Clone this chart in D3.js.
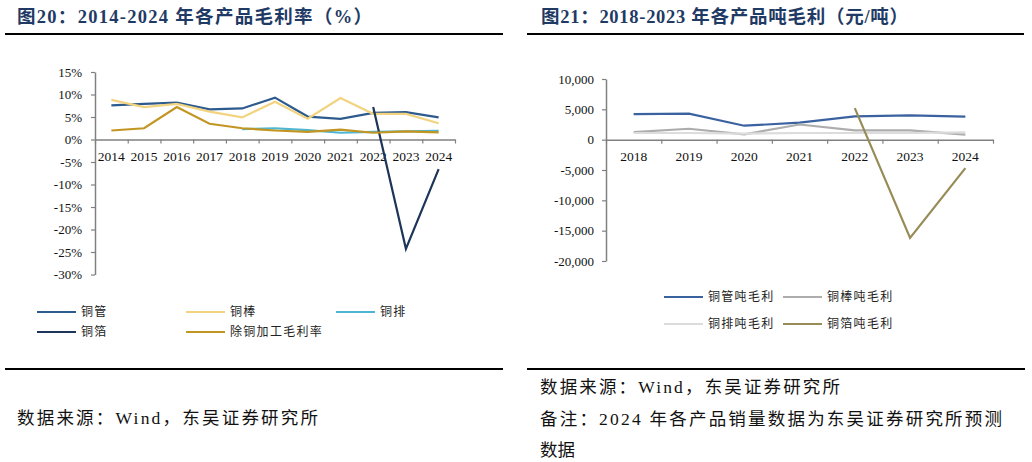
<!DOCTYPE html>
<html>
<head>
<meta charset="utf-8">
<script src="https://cdn.jsdelivr.net/npm/d3@7"></script>
<style>
  body { margin: 0; background: #fff; }
  svg { display: block; }
</style>
</head>
<body>
<div id="chart"></div>
<script>
// ---- data: left chart (毛利率, %) ----
let leftYears = ["2014", "2015", "2016", "2017", "2018", "2019", "2020", "2021", "2022", "2023", "2024"]
let tongGuan = [7.6, 7.9, 8.2, 6.7, 6.9, 9.3, 5.1, 4.6, 5.9, 6.1, 4.9]
let tongBang = [8.8, 7.2, 7.9, 6.2, 4.9, 8.4, 4.6, 9.2, 5.7, 5.7, 3.6]
let tongPai = [null, null, null, null, 2.3, 2.5, 2.1, 1.5, 1.7, 1.8, 1.9]
let tongBo = [null, null, null, null, null, null, null, null, 7.2, -24.3, -6.6]
let chuTong = [2.0, 2.5, 7.2, 3.5, 2.5, 2.0, 1.7, 2.2, 1.5, 1.8, 1.6]
let leftYTicks = [15, 10, 5, 0, -5, -10, -15, -20, -25, -30]

// ---- data: right chart (吨毛利, 元/吨) ----
let rightYears = ["2018", "2019", "2020", "2021", "2022", "2023", "2024"]
let guanTon = [4200, 4300, 2300, 2800, 3850, 4000, 3800]
let bangTon = [1250, 1800, 870, 2500, 1530, 1530, 820]
let paiTon = [1100, 1100, 1000, 1100, 1100, 1100, 1200]
let boTon = [null, null, null, null, 5200, -16200, -4700]
let rightYTicks = [10000, 5000, 0, -5000, -10000, -15000, -20000]

var W = 1032, H = 462
var serif = '"Liberation Serif", "Times New Roman", "Noto Sans CJK SC", serif'
var cjk = '"Noto Sans CJK SC", "Liberation Serif", sans-serif'

var svg = d3.select("#chart").append("svg")
    .attr("width", W)
    .attr("height", H)

// titles + rules
function header(x, len, text, ruleX0, ruleX1) {
    svg.append("text")
        .attr("x", x).attr("y", 23)
        .attr("textLength", len).attr("lengthAdjust", "spacing")
        .style("font-family", serif)
        .style("font-weight", "bold")
        .style("font-size", "18.5px")
        .style("fill", "#1F3A64")
        .text(text)
    svg.append("line")
        .attr("x1", ruleX0).attr("x2", ruleX1)
        .attr("y1", 34).attr("y2", 34)
        .attr("stroke", "#000").attr("stroke-width", 2)
}
header(17, 355, "图20：2014-2024 年各产品毛利率（%）", 5, 503)
header(541, 367, "图21：2018-2023 年各产品吨毛利（元/吨）", 527, 1024)

// bottom rules + notes
svg.append("line").attr("x1", 5).attr("x2", 503).attr("y1", 369).attr("y2", 369)
    .attr("stroke", "#000").attr("stroke-width", 2)
svg.append("line").attr("x1", 527).attr("x2", 1025).attr("y1", 369).attr("y2", 369)
    .attr("stroke", "#000").attr("stroke-width", 2)

function note(x, y, len, text) {
    svg.append("text")
        .attr("x", x).attr("y", y)
        .attr("textLength", len).attr("lengthAdjust", "spacing")
        .style("font-family", serif)
        .style("font-size", "17.5px")
        .style("fill", "#111")
        .text(text)
}
note(17, 424, 301, "数据来源：Wind，东吴证券研究所")
note(540, 393, 300, "数据来源：Wind，东吴证券研究所")
note(540, 425, 462, "备注：2024 年各产品销量数据为东吴证券研究所预测")
note(540, 456, 35, "数据")

// generic line chart
function drawChart(opt) {
    var n = opt.cats.length
    var y = d3.scaleLinear().domain(opt.yDomain).range([opt.yBottom, opt.yTop])
    var xb = d3.scaleLinear().domain([0, n]).range([opt.x0, opt.x1])
    var xc = function (i) { return xb(i + 0.5) }

    // y axis
    var ya = svg.append("g")
        .attr("transform", "translate(" + opt.x0 + ",0)")
        .call(d3.axisLeft(y).tickValues(opt.yTicks).tickFormat(opt.fmt).tickSize(4).tickSizeOuter(0))
    ya.select(".domain").attr("stroke", "#808080").attr("stroke-width", 1.5)
    ya.selectAll(".tick line").attr("stroke", "#808080").attr("stroke-width", 1.2)
    ya.selectAll("text")
        .attr("x", opt.yLabelDx)
        .style("font-family", serif).style("font-size", "13px").style("fill", "#111")

    // x axis (ticks at category boundaries, labels centred)
    var xa = svg.append("g")
        .attr("transform", "translate(0," + y(0) + ")")
        .call(d3.axisBottom(xb).tickValues(d3.range(n + 1)).tickFormat("").tickSize(4).tickSizeOuter(0))
    xa.select(".domain").attr("stroke", "#808080").attr("stroke-width", 1.5)
    xa.selectAll(".tick line").attr("stroke", "#808080").attr("stroke-width", 1.2)
    svg.append("g").selectAll("text")
        .data(opt.cats)
        .enter()
        .append("text")
        .attr("x", function (d, i) { return xc(i) })
        .attr("y", y(0) + opt.xLabelDy)
        .attr("text-anchor", "middle")
        .style("font-family", serif).style("font-size", "13.5px").style("fill", "#111")
        .text(function (d) { return d })

    // lines
    var line = d3.line()
        .defined(function (d) { return d != null })
        .x(function (d, i) { return xc(i) })
        .y(function (d) { return y(d) })
    opt.series.forEach(function (s) {
        svg.append("path")
            .datum(s.values)
            .attr("d", line)
            .attr("fill", "none")
            .attr("stroke", s.color)
            .attr("stroke-width", 2.2)
            .attr("stroke-linejoin", "miter")
    })

    // legend
    opt.series.forEach(function (s, i) {
        var p = opt.legendPos[i]
        svg.append("line")
            .attr("x1", p[0]).attr("x2", p[0] + 39)
            .attr("y1", p[1]).attr("y2", p[1])
            .attr("stroke", s.color).attr("stroke-width", 2.2)
        svg.append("text")
            .attr("x", p[0] + 44).attr("y", p[1]).attr("dy", "0.36em")
            .style("font-family", cjk).style("font-size", "12px")
            .style("letter-spacing", "1.3px")
            .style("fill", "#222")
            .text(s.name)
    })
}

drawChart({
    cats: leftYears,
    yDomain: [-30, 15], yTop: 72, yBottom: 274.5,
    x0: 95, x1: 455,
    yTicks: leftYTicks,
    fmt: function (d) { return d + "%" },
    yLabelDx: -13, xLabelDy: 21,
    series: [
        { name: "铜管", values: tongGuan, color: "#2E5B8E" },
        { name: "铜棒", values: tongBang, color: "#F2D37F" },
        { name: "铜排", values: tongPai, color: "#4DB6D2" },
        { name: "铜箔", values: tongBo, color: "#1C3558" },
        { name: "除铜加工毛利率", values: chuTong, color: "#C39522" }
    ],
    legendPos: [[37, 312], [186, 312], [336, 312], [37, 332], [186, 332]]
})

drawChart({
    cats: rightYears,
    yDomain: [-20000, 10000], yTop: 79, yBottom: 261,
    x0: 606, x1: 993,
    yTicks: rightYTicks,
    fmt: function (d) { return d3.format(",")(d).replace("\u2212", "-") },
    yLabelDx: -12, xLabelDy: 21,
    series: [
        { name: "铜管吨毛利", values: guanTon, color: "#3B62A0" },
        { name: "铜棒吨毛利", values: bangTon, color: "#ADADAD" },
        { name: "铜排吨毛利", values: paiTon, color: "#DCDCDC" },
        { name: "铜箔吨毛利", values: boTon, color: "#978C57" }
    ],
    legendPos: [[664, 297], [783, 297], [664, 324], [783, 324]]
})
</script>
</body>
</html>
